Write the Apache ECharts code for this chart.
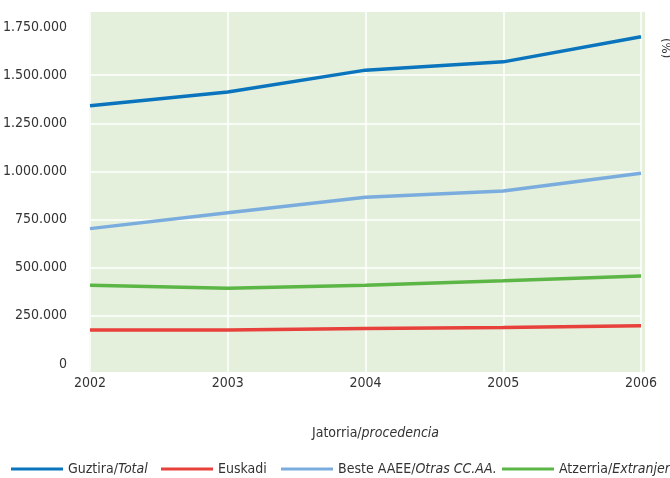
<!DOCTYPE html>
<html>
<head>
<meta charset="utf-8">
<script src="https://cdn.jsdelivr.net/npm/echarts@6/dist/echarts.min.js"></script>
<style>
html,body{margin:0;padding:0;background:#fff;}
#chart{width:670px;height:478px;}
</style>
</head>
<body>
<div id="chart"></div>
<script>
const years = ['2002', '2003', '2004', '2005', '2006'];
const total = [1341000, 1412000, 1526000, 1569000, 1699000];
const euskadi = [177000, 177000, 184000, 189000, 198000];
const otrasCCAA = [703000, 786000, 866000, 898000, 990000];
const extranjero = [409000, 394000, 409000, 432000, 457000];
const seriesNames = ['Guztira/Total', 'Euskadi', 'Beste AAEE/Otras CC.AA.', 'Atzerria/Extranjero'];
const yTicks = { min: 0, max: 1750000, interval: 250000 };

const FONT = '"DejaVu Sans Condensed", "Liberation Sans Narrow", sans-serif';
const TXT = '#333333';

function fmt(v) {
  return String(v).replace(/\B(?=(\d{3})+(?!\d))/g, '.');
}

const chart = echarts.init(document.getElementById('chart'));
const mk = (name, data, color) => ({
  name: name, type: 'line', data: data, symbol: 'none',
  xAxisIndex: 0, yAxisIndex: 0,
  lineStyle: { color: color, width: 3.5 }, itemStyle: { color: color },
  smooth: false, z: 3
});

const legendRich = {
  a: { fontSize: 14, color: TXT, fontFamily: FONT },
  b: { fontSize: 14, color: TXT, fontFamily: FONT, fontStyle: 'italic' }
};
const legendLefts = [6, 156, 276, 497];
const legends = seriesNames.map((n, i) => ({
  left: legendLefts[i], top: 457, itemWidth: 52, itemHeight: 3, itemGap: 5,
  icon: 'rect', data: [n], width: 400,
  formatter: function (name) {
    const k = name.indexOf('/');
    if (k < 0) return '{a|' + name + '}';
    return '{a|' + name.slice(0, k + 1) + '}{b|' + name.slice(k + 1) + '}';
  },
  textStyle: { rich: legendRich }
}));

chart.setOption({
  animation: false,
  textStyle: { fontFamily: FONT, color: TXT },
  graphic: [
    { type: 'rect', shape: { x: 89, y: 12, width: 556, height: 360 },
      style: { fill: '#e4efdc' }, z: -10, silent: true },
    { type: 'text', x: 672, y: 38, rotation: -Math.PI / 2,
      style: { text: '(%)', fill: TXT, font: '13px ' + FONT } }
  ],
  grid: [
    { left: 90, right: 29, top: 27, bottom: 114, outerBoundsMode: 'none', containLabel: false },
    { left: 90, right: 29, top: 12, bottom: 106, outerBoundsMode: 'none', containLabel: false }
  ],
  xAxis: [{
    type: 'category', data: years, boundaryGap: false, gridIndex: 0,
    axisLine: { show: false }, axisTick: { show: false },
    axisLabel: { fontSize: 14, color: TXT, fontFamily: FONT, margin: 12 },
    splitLine: { show: false },
    name: '{a|Jatorria/}{b|procedencia}',
    nameLocation: 'middle', nameGap: 62,
    nameTextStyle: {
      padding: [0, 0, 0, 20],
      rich: legendRich
    }
  }, {
    type: 'category', data: years, boundaryGap: false, gridIndex: 1,
    axisLine: { show: false }, axisTick: { show: false }, axisLabel: { show: false },
    splitLine: { show: true, lineStyle: { color: '#ffffff', width: 1.5 } }
  }],
  yAxis: [{
    type: 'value', min: yTicks.min, max: yTicks.max, interval: yTicks.interval, gridIndex: 0,
    axisLine: { show: false }, axisTick: { show: false },
    axisLabel: { fontSize: 14, color: TXT, fontFamily: FONT, margin: 23,
      verticalAlign: 'middle', padding: [0, 0, 12, 0], formatter: fmt },
    splitLine: { show: true, showMinLine: false, showMaxLine: false,
      lineStyle: { color: '#ffffff', width: 1.5 } }
  }, {
    type: 'value', gridIndex: 1, show: false, min: 0, max: 1,
    splitLine: { show: false }
  }],
  legend: legends,
  series: [
    mk(seriesNames[0], total, '#0a74bd'),
    mk(seriesNames[1], euskadi, '#e8403a'),
    mk(seriesNames[2], otrasCCAA, '#7aaddd'),
    mk(seriesNames[3], extranjero, '#5cb646')
  ]
});
</script>
</body>
</html>
